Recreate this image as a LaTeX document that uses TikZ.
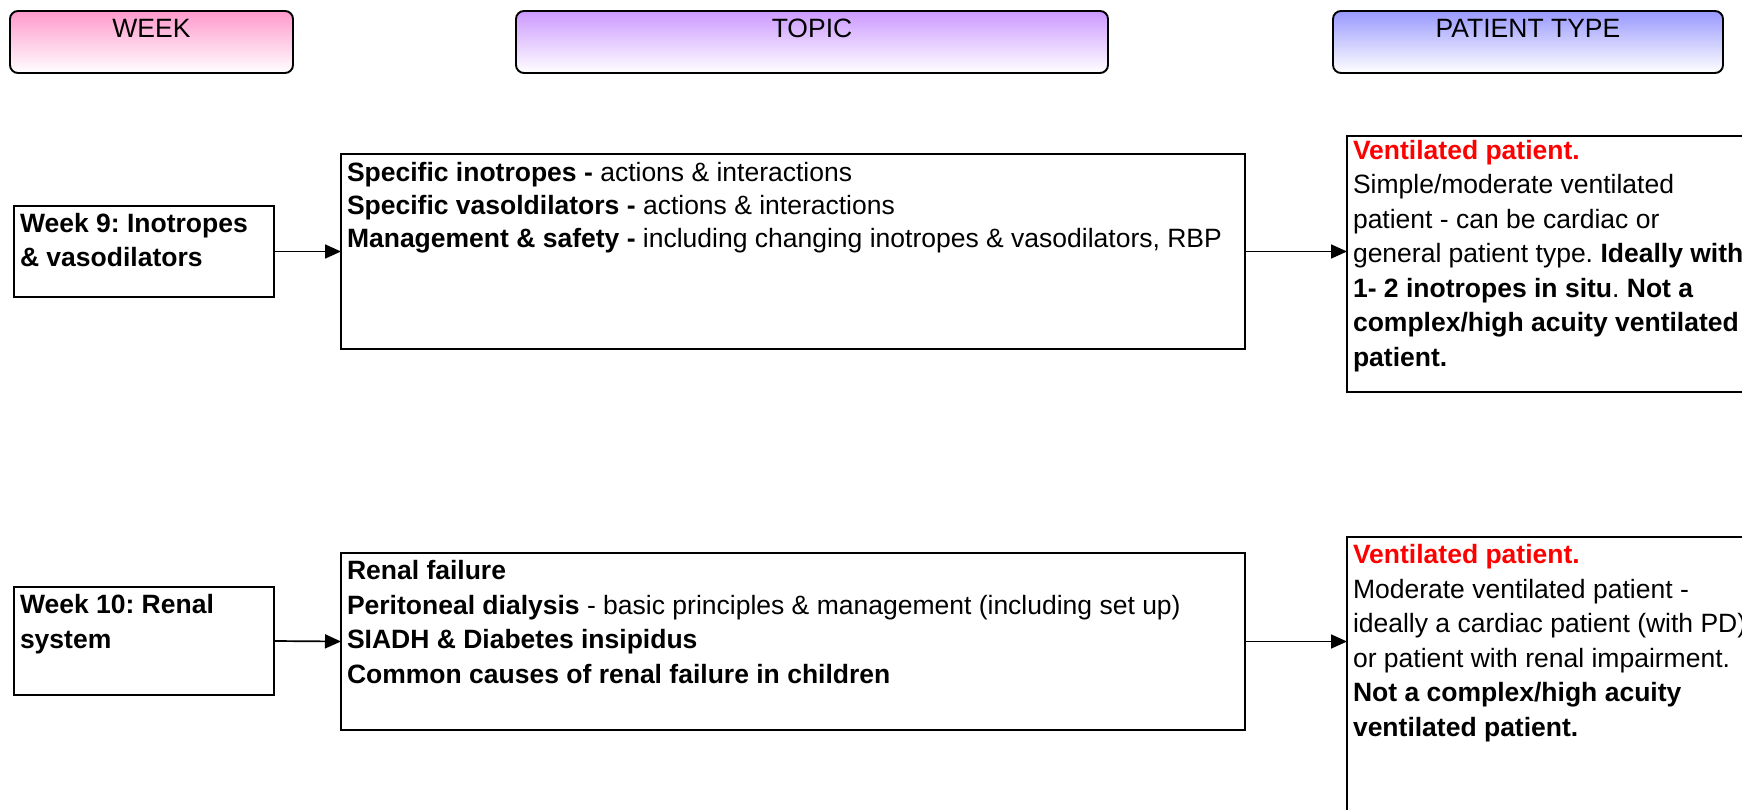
\documentclass[tikz,border=0pt]{standalone}
\usepackage{fontspec}
\setmainfont{Liberation Sans}
\usetikzlibrary{arrows.meta}
\definecolor{hpink}{HTML}{FF99CC}
\definecolor{hpurple}{HTML}{CC99FF}
\definecolor{hblue}{HTML}{9999FF}
\definecolor{vred}{HTML}{FF0000}
\newcommand{\bx}[4][26.5]{\begin{minipage}[t][#3pt][t]{#2pt}\fontsize{26.5}{34.5}\selectfont\frenchspacing\raggedright\rule{0pt}{#1pt}#4\end{minipage}}
\newcommand{\hx}[3]{\begin{minipage}[t][#2pt][t]{#1pt}\fontsize{26.5}{34.5}\selectfont\centering\rule{0pt}{27pt}#3\end{minipage}}
\tikzset{
  box/.style={draw, line width=1.9pt, anchor=north west, inner xsep=6pt, inner ysep=0pt, outer sep=0pt},
  hdr/.style={draw, line width=1.9pt, rounded corners=8pt, anchor=north west, inner xsep=0pt, inner ysep=0pt, outer sep=0pt},
  link/.style={line width=1.7pt, -{Triangle[length=16pt,width=14pt]}},
}
\begin{document}
\begin{tikzpicture}[x=1pt,y=-1pt]
\path[use as bounding box] (0,0) rectangle (1742,810);
\clip (0,0) rectangle (1742,810);
% headers
\node[hdr, top color=hpink, middle color=hpink!45, bottom color=white] (hweek) at (10,11) {\hx{283}{62}{WEEK}};
\node[hdr, top color=hpurple, middle color=hpurple!45, bottom color=white] (htopic) at (516,11) {\hx{592}{62}{TOPIC}};
\node[hdr, top color=hblue, middle color=hblue!45, bottom color=white] (hpatient) at (1333,11) {\hx{390}{62}{PATIENT TYPE}};
% row 1
\node[box] (w9) at (14,206) {\bx{248}{91}{\textbf{Week 9: Inotropes}\\\textbf{\& vasodilators}}};
\node[box] (t1) at (341,154) {\bx[27.5]{892}{195}{\textbf{Specific inotropes -} actions \& interactions\\[-1.5pt]
\textbf{Specific vasoldilators -} actions \& interactions\\[-1.5pt]
\textbf{Management \& safety -} including changing inotropes \& vasodilators, RBP}};
\node[box] (p1) at (1347,136) {\bx[23.5]{408}{256}{\textcolor{vred}{\textbf{Ventilated patient.}}\\
Simple/moderate ventilated\\
patient - can be cardiac or\\
general patient type. \textbf{Ideally with}\\
\textbf{1- 2 inotropes in situ}. \textbf{Not a}\\
\textbf{complex/high acuity ventilated}\\
\textbf{patient.}}};
% row 2
\node[box] (w10) at (14,587) {\bx{248}{108}{\textbf{Week 10: Renal}\\\textbf{system}}};
\node[box] (t2) at (341,553) {\bx{892}{177}{\textbf{Renal failure}\\
\textbf{Peritoneal dialysis} - basic principles \& management (including set up)\\
\textbf{SIADH \& Diabetes insipidus}\\
\textbf{Common causes of renal failure in children}}};
\node[box] (p2) at (1347,537) {\bx{408}{300}{\textcolor{vred}{\textbf{Ventilated patient.}}\\
Moderate ventilated patient -\\
ideally a cardiac patient (with PD)\\
or patient with renal impairment.\\
\textbf{Not a complex/high acuity}\\
\textbf{ventilated patient.}}};
% connectors
\draw[link] (w9.east) -- (t1.west);
\draw[link] (t1.east) -- (t1.east -| p1.west);
\draw[link] (w10.east) -- (t2.west);
\draw[link] (t2.east) -- (t2.east -| p2.west);
\end{tikzpicture}
\end{document}
